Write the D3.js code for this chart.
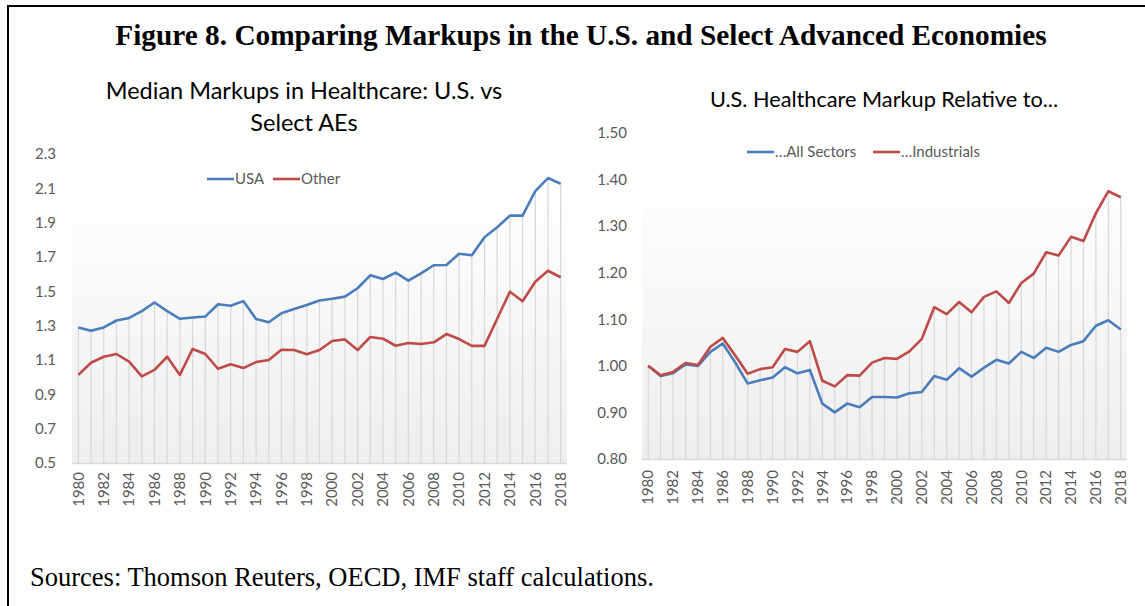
<!DOCTYPE html>
<html>
  <head>
    <meta charset="utf-8" />
    <style>
      body { margin: 0; background: #fff; }
      svg text { font-family: Lato, "Open Sans", sans-serif; }
    </style>
  </head>
  <body>
    <svg width="1145" height="606"></svg>
    <script src="https://d3js.org/d3.v7.min.js"></script>
    <script>
      // categories
      var years = [1980, 1981, 1982, 1983, 1984, 1985, 1986, 1987, 1988, 1989,
        1990, 1991, 1992, 1993, 1994, 1995, 1996, 1997, 1998, 1999,
        2000, 2001, 2002, 2003, 2004, 2005, 2006, 2007, 2008, 2009,
        2010, 2011, 2012, 2013, 2014, 2015, 2016, 2017, 2018];
      var yearLabels = [1980, 1982, 1984, 1986, 1988, 1990, 1992, 1994, 1996, 1998,
        2000, 2002, 2004, 2006, 2008, 2010, 2012, 2014, 2016, 2018];

      // left panel: median markups
      var usa = [1.29, 1.27, 1.29, 1.33, 1.345, 1.385, 1.435, 1.385, 1.34, 1.348,
        1.353, 1.425, 1.416, 1.443, 1.339, 1.32, 1.372, 1.397, 1.42, 1.447,
        1.457, 1.469, 1.518, 1.593, 1.572, 1.609, 1.562, 1.605, 1.652, 1.653,
        1.719, 1.71, 1.815, 1.873, 1.941, 1.941, 2.084, 2.16, 2.127];
      var other = [1.013, 1.084, 1.119, 1.135, 1.09, 1.005, 1.042, 1.119, 1.013, 1.164,
        1.135, 1.049, 1.075, 1.053, 1.088, 1.1, 1.16, 1.158, 1.133, 1.158,
        1.211, 1.22, 1.158, 1.234, 1.224, 1.183, 1.199, 1.193, 1.203, 1.251,
        1.222, 1.182, 1.182, 1.34, 1.498, 1.442, 1.556, 1.62, 1.582];
      var leftTicks = [0.5, 0.7, 0.9, 1.1, 1.3, 1.5, 1.7, 1.9, 2.1, 2.3];

      // right panel: US healthcare markup relative to...
      var allSectors = [1.0, 0.978, 0.984, 1.003, 1.0, 1.03, 1.048, 1.007, 0.962, 0.969,
        0.975, 0.997, 0.984, 0.991, 0.919, 0.9, 0.919, 0.911, 0.933, 0.933,
        0.932, 0.941, 0.944, 0.978, 0.97, 0.995, 0.977, 0.996, 1.013, 1.005,
        1.03, 1.017, 1.039, 1.03, 1.045, 1.053, 1.086, 1.098, 1.078];
      var industrials = [1.0, 0.98, 0.987, 1.006, 1.002, 1.041, 1.06, 1.022, 0.983, 0.993,
        0.997, 1.036, 1.03, 1.053, 0.968, 0.956, 0.98, 0.979, 1.007, 1.017,
        1.015, 1.031, 1.058, 1.126, 1.111, 1.137, 1.115, 1.148, 1.16, 1.135,
        1.178, 1.198, 1.244, 1.237, 1.277, 1.268, 1.328, 1.375, 1.362];
      var rightTicks = [0.8, 0.9, 1.0, 1.1, 1.2, 1.3, 1.4, 1.5];

      var blue = "#4a7ebb",
        red = "#be4b48",
        grey = "#595959";

      var svg = d3.select("svg");

      var grad = svg.append("defs").append("linearGradient")
        .attr("id", "bg")
        .attr("x1", 0).attr("y1", 0).attr("x2", 0).attr("y2", 1);
      grad.append("stop").attr("offset", "0%").attr("stop-color", "#ffffff");
      grad.append("stop").attr("offset", "100%").attr("stop-color", "#eeeeee");

      // frame
      svg.append("path")
        .attr("d", "M8,606V6H1145")
        .attr("fill", "none")
        .attr("stroke", "#000")
        .attr("stroke-width", 2);

      svg.append("text")
        .attr("x", 581)
        .attr("y", 45)
        .attr("text-anchor", "middle")
        .style("font-family", "'Liberation Serif', 'Times New Roman', serif")
        .style("font-weight", "bold")
        .style("font-size", "29.3px")
        .text("Figure 8. Comparing Markups in the U.S. and Select Advanced Economies");

      svg.append("text")
        .attr("x", 30)
        .attr("y", 586)
        .style("font-family", "'Liberation Serif', 'Times New Roman', serif")
        .style("font-size", "26.5px")
        .text("Sources: Thomson Reuters, OECD, IMF staff calculations.");

      function panel(cfg) {
        var g = svg.append("g");

        var x = d3.scaleBand().domain(years).range([cfg.left, cfg.right]);
        var y = d3.scaleLinear().domain(cfg.domain).range([cfg.bottom, cfg.top]);
        var cx = function(d) { return x(d) + x.bandwidth() / 2; };

        g.append("rect")
          .attr("x", cfg.left)
          .attr("y", cfg.bgTop)
          .attr("width", cfg.right - cfg.left)
          .attr("height", cfg.bottom - cfg.bgTop)
          .attr("fill", "url(#bg)");

        // drop lines from the higher series down to the axis
        g.selectAll(".drop")
          .data(years)
          .enter()
          .append("line")
          .attr("x1", cx)
          .attr("x2", cx)
          .attr("y1", function(d, i) {
            return y(d3.max(cfg.series, function(s) { return s.values[i]; }));
          })
          .attr("y2", cfg.bottom)
          .attr("stroke", "#d9d9d9")
          .attr("stroke-width", 1.3);

        g.append("line")
          .attr("x1", cfg.left)
          .attr("x2", cfg.right)
          .attr("y1", cfg.bottom + 0.5)
          .attr("y2", cfg.bottom + 0.5)
          .attr("stroke", "#d9d9d9")
          .attr("stroke-width", 1.5);

        var yAxis = g.append("g")
          .attr("transform", "translate(" + cfg.left + ",0)")
          .call(d3.axisLeft(y).tickValues(cfg.ticks).tickSize(0).tickPadding(cfg.yPad).tickFormat(d3.format(cfg.fmt)));
        yAxis.select(".domain").remove();
        yAxis.selectAll("text")
          .attr("fill", grey)
          .style("font-size", "15px");

        var xAxis = g.append("g")
          .attr("transform", "translate(0," + cfg.bottom + ")")
          .call(d3.axisBottom(x).tickValues(yearLabels).tickSize(0));
        xAxis.select(".domain").remove();
        xAxis.selectAll("text")
          .attr("transform", "rotate(-90)")
          .attr("x", -cfg.xPad)
          .attr("y", 0)
          .attr("dy", "0.35em")
          .attr("text-anchor", "end")
          .attr("fill", grey)
          .style("font-size", "15px");

        var line = d3.line()
          .x(function(d, i) { return cx(years[i]); })
          .y(function(d) { return y(d); });

        cfg.series.forEach(function(s) {
          g.append("path")
            .attr("d", line(s.values))
            .attr("fill", "none")
            .attr("stroke", s.color)
            .attr("stroke-width", 2.6)
            .attr("stroke-linejoin", "round");
        });

        // legend
        var lg = g.selectAll(".leg")
          .data(cfg.series)
          .enter()
          .append("g")
          .attr("transform", function(d, i) {
            return "translate(" + cfg.legendX[i] + "," + cfg.legendY + ")";
          });
        lg.append("line")
          .attr("x1", 0).attr("x2", 27)
          .attr("stroke", function(d) { return d.color; })
          .attr("stroke-width", 2.6);
        lg.append("text")
          .attr("x", 28)
          .attr("dy", "0.35em")
          .attr("fill", grey)
          .style("font-size", "15px")
          .text(function(d) { return d.name; });

        var t = g.append("text")
          .attr("text-anchor", "middle")
          .attr("fill", "#000")
          .style("font-size", cfg.titleSize);
        cfg.title.forEach(function(s, i) {
          t.append("tspan")
            .attr("x", cfg.titleX)
            .attr("y", cfg.titleY + i * 32)
            .text(s);
        });
      }

      panel({
        left: 72, right: 567, top: 154, bottom: 463, bgTop: 189,
        domain: [0.5, 2.3], ticks: leftTicks, fmt: ".1f", yPad: 16, xPad: 9,
        series: [
          { name: "USA", values: usa, color: blue },
          { name: "Other", values: other, color: red }
        ],
        legendX: [207, 273], legendY: 179,
        title: ["Median Markups in Healthcare: U.S. vs", "Select AEs"],
        titleX: 304, titleY: 99, titleSize: "23.5px"
      });

      panel({
        left: 642, right: 1127, top: 133, bottom: 459, bgTop: 170,
        domain: [0.8, 1.5], ticks: rightTicks, fmt: ".2f", yPad: 15, xPad: 11,
        series: [
          { name: "\u2026All Sectors", values: allSectors, color: blue },
          { name: "\u2026Industrials", values: industrials, color: red }
        ],
        legendX: [747, 873], legendY: 152,
        title: ["U.S. Healthcare Markup Relative to..."],
        titleX: 884, titleY: 107, titleSize: "21.7px"
      });
    </script>
  </body>
</html>
